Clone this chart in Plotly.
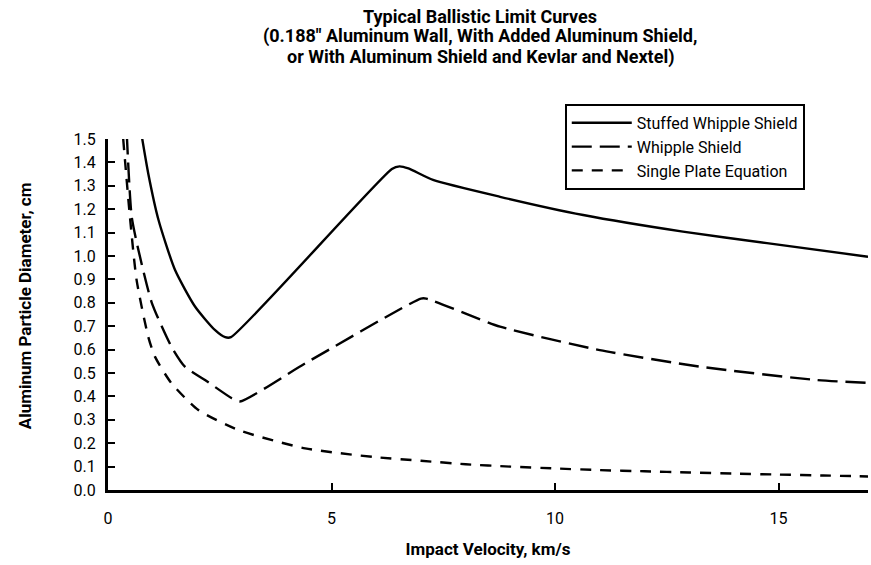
import plotly.graph_objects as go

# Stuffed Whipple Shield (solid)
stuffed_v = [0.74, 0.90, 1.13, 1.50, 1.95, 2.39, 2.62, 2.75, 6.35, 6.52, 6.72, 7.27, 8.77, 10.63, 12.86, 14.74, 17.0]
stuffed_d = [1.53, 1.353, 1.154, 0.940, 0.783, 0.684, 0.653, 0.653, 1.372, 1.383, 1.374, 1.325, 1.253, 1.175, 1.104, 1.055, 0.997]

# Whipple Shield (long dash)
whipple_v = [0.42, 0.53, 0.68, 0.98, 1.42, 1.72, 2.17, 2.77, 2.95, 4.41, 7.0, 7.12, 8.77, 11.0, 13.24, 15.85, 17.0]
whipple_d = [1.52, 1.168, 1.026, 0.80, 0.612, 0.527, 0.47, 0.392, 0.378, 0.541, 0.818, 0.818, 0.698, 0.598, 0.527, 0.47, 0.458]

# Single Plate Equation (short dash)
single_v = [0.34, 0.49, 0.64, 0.90, 1.05, 1.42, 2.02, 2.92, 4.41, 6.0, 7.0, 8.0, 9.0, 10.0, 11.0, 12.0, 13.0, 14.0, 15.0, 16.0, 17.0]
single_d = [1.50, 1.168, 0.897, 0.655, 0.57, 0.456, 0.342, 0.256, 0.178, 0.14, 0.125, 0.11, 0.10, 0.092, 0.085, 0.08, 0.075, 0.07, 0.066, 0.062, 0.058]

y_ticks = [0.0, 0.1, 0.2, 0.3, 0.4, 0.5, 0.6, 0.7, 0.8, 0.9, 1.0, 1.1, 1.2, 1.3, 1.4, 1.5]
x_ticks = [0, 5, 10, 15]

title_lines = [
    "Typical Ballistic Limit Curves",
    "(0.188\" Aluminum Wall, With Added Aluminum Shield,",
    "or With Aluminum Shield and Kevlar and Nextel)",
]
title_y = [1.3504, 1.2934, 1.2336]

FONT = "Roboto, Liberation Sans, sans-serif"

fig = go.Figure()
fig.add_trace(go.Scatter(x=stuffed_v, y=stuffed_d, mode="lines", name="Stuffed Whipple Shield",
                         line=dict(color="black", width=2.4, shape="spline", smoothing=0.6)))
fig.add_trace(go.Scatter(x=whipple_v, y=whipple_d, mode="lines", name="Whipple Shield",
                         line=dict(color="black", width=2.4, dash="20px,8px", shape="spline", smoothing=0.6)))
fig.add_trace(go.Scatter(x=single_v, y=single_d, mode="lines", name="Single Plate Equation",
                         line=dict(color="black", width=2.4, dash="11px,9px", shape="spline", smoothing=0.6)))

annotations = [
    dict(text=f"<b>{t}</b>", xref="paper", yref="paper", x=0.49, y=ty,
         xanchor="center", yanchor="middle", showarrow=False,
         font=dict(family=FONT, size=18, color="black"))
    for t, ty in zip(title_lines, title_y)
]
annotations.append(dict(
    text="<b>Aluminum Particle Diameter, cm</b>",
    xref="paper", yref="paper", x=-0.109, y=0.524, xanchor="center", yanchor="middle",
    textangle=-90, showarrow=False,
    font=dict(family=FONT, size=17, color="black"),
))

fig.update_layout(
    width=871, height=565,
    margin=dict(l=108, r=3, t=139, b=75),
    paper_bgcolor="white", plot_bgcolor="white",
    font=dict(family=FONT, size=16, color="black"),
    showlegend=True,
    legend=dict(
        x=0.601, y=1.1, xanchor="left", yanchor="top",
        bordercolor="black", borderwidth=2, bgcolor="white",
        font=dict(family=FONT, size=16, color="black"),
        tracegroupgap=0, itemwidth=60,
    ),
    xaxis=dict(
        range=[0, 17], tickmode="array", tickvals=x_ticks, ticktext=[str(v) for v in x_ticks],
        showgrid=False, zeroline=False, showline=True, linecolor="black", linewidth=3,
        ticks="inside", ticklen=7, tickwidth=2, tickcolor="black",
        tickfont=dict(family=FONT, size=16), ticklabelstandoff=12,
        title=dict(text="<b>Impact Velocity, km/s</b>", font=dict(family=FONT, size=17), standoff=16),
    ),
    yaxis=dict(
        range=[0, 1.5], tickmode="array", tickvals=y_ticks, ticktext=[f"{v:.1f}" for v in y_ticks],
        showgrid=False, zeroline=False, showline=True, linecolor="black", linewidth=3,
        ticks="inside", ticklen=7, tickwidth=2, tickcolor="black",
        tickfont=dict(family=FONT, size=16), ticklabelstandoff=6,
    ),
    annotations=annotations,
)

fig.write_html("out.html")
